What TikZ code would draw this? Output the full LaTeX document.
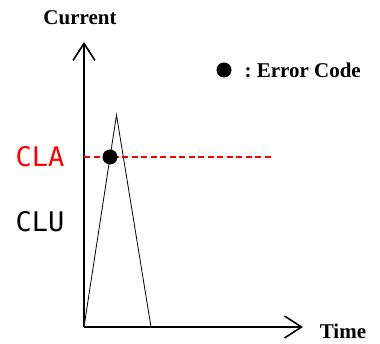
\documentclass[tikz,border=0pt]{standalone}
\usepackage{xcolor}
\usepackage{fontspec}
\setmainfont{Liberation Serif}
\newfontfamily\segfont{DejaVu Sans Mono}
\usetikzlibrary{arrows.meta}
\definecolor{clared}{RGB}{255,0,0}
\tikzset{
  axisline/.style={line width=1.6pt,-{Straight Barb[length=17pt,width=22pt,line width=1.6pt]}},
  pulseline/.style={line width=0.8pt},
  levellbl/.style={font=\segfont\fontsize{27}{27}\selectfont},
  axislbl/.style={font=\bfseries\fontsize{21}{21}\selectfont},
  errdot/.style={circle,fill=black,inner sep=0pt,minimum size=15pt}
}

\begin{document}
\begin{tikzpicture}[x=1pt,y=1pt]
  \useasboundingbox (0,0) rectangle (380,343);
  % axes
  \coordinate (orig) at (84,16);
  \coordinate (ytip) at (84,301);
  \coordinate (xtip) at (303,16);
  \draw[axisline] (orig) -- (ytip);
  \draw[axisline] (orig) -- (xtip);
  \node[axislbl] (curlbl)  at (80,325) {Current};
  \node[axislbl] (timelbl) at (343,12) {Time};
  % pulse
  \coordinate (peak) at (116.5,228);
  \coordinate (pend) at (151,16);
  \draw[pulseline] (orig) -- (peak) -- (pend);
  % CLA level
  \coordinate (claleft)  at (84,186);
  \coordinate (claright) at (272,186);
  \draw[clared,line width=1.6pt,dash pattern=on 6pt off 3.5pt] (claleft) -- (claright);
  \node[errdot] (errpt) at (110,186) {};
  \node[levellbl,text=clared] (clalbl) at (40,186) {CLA};
  \node[levellbl] (clulbl) at (40,121) {CLU};
  % legend
  \node[errdot] (legdot) at (224,273) {};
  \node[axislbl,anchor=west] (legtxt) at (241,273) {:~Error Code};
\end{tikzpicture}
\end{document}
